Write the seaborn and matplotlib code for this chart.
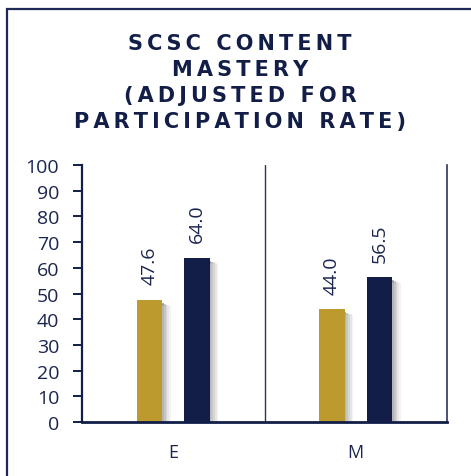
import matplotlib
matplotlib.use("Agg")
import matplotlib.pyplot as plt
import matplotlib.patheffects as pe
from matplotlib.patches import Rectangle
import seaborn as sns
import pandas as pd

# ---- data ----
levels = ["E", "M"]
series_names = ["Adjusted", "Comparison"]
adjusted_values = [47.6, 44.0]
comparison_values = [64.0, 56.5]
y_ticks = [0, 10, 20, 30, 40, 50, 60, 70, 80, 90, 100]
title_lines = ["SCSC CONTENT", "MASTERY", "(ADJUSTED FOR", "PARTICIPATION RATE)"]

GOLD = "#BD9A2E"
NAVY = "#121E48"
TEXT = "#1B2550"

df = pd.DataFrame({
    "level": levels * 2,
    "group": [series_names[0]] * len(levels) + [series_names[1]] * len(levels),
    "score": adjusted_values + comparison_values,
})

sns.set_theme(style="white")
plt.rcParams["font.family"] = ["Open Sans", "DejaVu Sans"]

fig = plt.figure(figsize=(4.71, 4.77), dpi=100)
ax = fig.add_axes([82 / 471, 1 - 423 / 477, (447 - 82) / 471, (423 - 166) / 477])

sns.barplot(data=df, x="level", y="score", hue="group", palette=[GOLD, NAVY],
            width=0.52, gap=0.47, legend=False, ax=ax, saturation=1)

shadow = [
    pe.SimplePatchShadow(offset=(1.2, -2.5), shadow_rgbFace="#555555", alpha=0.45),
    pe.SimplePatchShadow(offset=(2.5, -3.0), shadow_rgbFace="#777777", alpha=0.35),
    pe.SimplePatchShadow(offset=(3.8, -3.5), shadow_rgbFace="#999999", alpha=0.3),
    pe.SimplePatchShadow(offset=(5.2, -4.0), shadow_rgbFace="#bbbbbb", alpha=0.3),
    pe.SimplePatchShadow(offset=(6.2, -4.5), shadow_rgbFace="#dddddd", alpha=0.3),
    pe.Normal(),
]
for p in ax.patches:
    p.set_path_effects(shadow)
    p.set_linewidth(0)

for cont in ax.containers:
    for bar in cont:
        h = bar.get_height()
        ax.annotate(f"{h:.1f}", (bar.get_x() + bar.get_width() / 2, h),
                    xytext=(0, 11), textcoords="offset points",
                    rotation=90, ha="center", va="bottom",
                    fontsize=14, color=TEXT)

ax.set_xlim(-0.5, 1.5)
ax.set_ylim(0, 100)
ax.set_yticks(y_ticks)
ax.set_xlabel("")
ax.set_ylabel("")
ax.axvline(0.5, color="#2A3460", lw=1.0)

ax.spines["top"].set_visible(False)
ax.spines["left"].set_color(NAVY)
ax.spines["left"].set_linewidth(1.6)
ax.spines["bottom"].set_color(NAVY)
ax.spines["bottom"].set_linewidth(2.0)
ax.spines["right"].set_color("#2A3460")
ax.spines["right"].set_linewidth(1.2)

ax.tick_params(axis="y", direction="out", length=6.5, width=1.4, color=NAVY,
               pad=10, labelsize=14, labelcolor=TEXT, left=True)
ax.tick_params(axis="x", length=0, pad=15, labelsize=13, labelcolor=TEXT)

sp = "\u2009"
for i, line in enumerate(title_lines):
    txt = sp.join(list(line))
    fig.text(240 / 471, 1 - (44 + i * 26) / 477, txt, ha="center", va="center",
             fontsize=15, fontweight="bold", color=NAVY, family="DejaVu Sans")

fig.add_artist(Rectangle((6.5 / 471, -0.2), 2.0, 1.2 - 9.5 / 477,
                         transform=fig.transFigure, fill=False,
                         edgecolor="#1E2A55", linewidth=1.6))

fig.savefig("out.png", dpi=100)
